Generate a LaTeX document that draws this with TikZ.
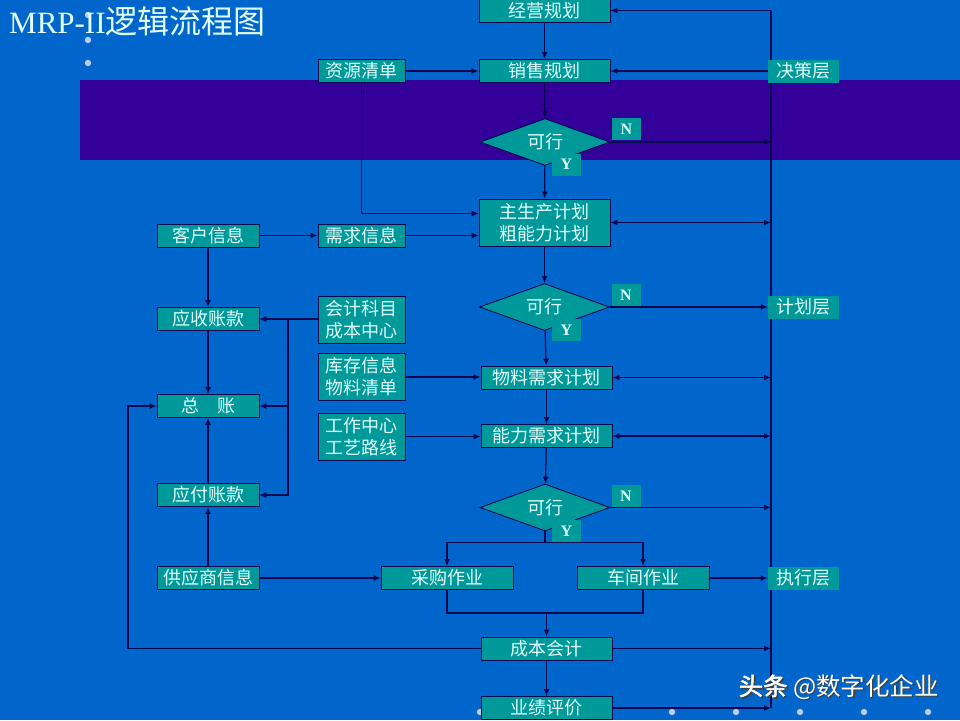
\documentclass[tikz,border=0pt]{standalone}
\usepackage{fontspec}
\setmainfont{Liberation Serif}
\newfontfamily\cjk[AutoFakeBold=2]{Noto Sans CJK SC}
\usetikzlibrary{arrows.meta,
  calc,
  shapes.geometric
}
\definecolor{slideblue}{RGB}{0,102,204}
\definecolor{bandpurple}{RGB}{51,0,153}
\definecolor{boxteal}{RGB}{0,153,153}
\definecolor{boxtext}{RGB}{226,255,255}
\definecolor{wireblue}{RGB}{8,8,80}
\definecolor{dotgray}{RGB}{190,205,235}

\begin{document}
\begin{tikzpicture}[x=1pt,y=-1pt,
  wire/.style={wireblue,line width=1.2},
  flow/.style={wire,-{Latex[length=7pt,width=6pt]}},
  both/.style={wire,{Latex[length=7pt,width=6pt]}-{Latex[length=7pt,width=6pt]}},
  box/.style={draw=wireblue,line width=0.9,fill=boxteal,text=boxtext,inner sep=0,
    minimum height=23,font=\cjk\fontsize{18}{22}\selectfont,align=center},
  wide/.style={box,minimum width=131},
  side/.style={box,minimum width=102},
  info/.style={box,minimum width=87},
  twoline/.style={minimum height=47},
  check/.style={box,shape=diamond,minimum width=130,minimum height=47,aspect=2.8},
  yn/.style={fill=boxteal,text=boxtext,inner sep=0,minimum width=29,minimum height=22,
    font=\fontsize{16}{16}\selectfont\bfseries},
  layer/.style={fill=boxteal,text=boxtext,inner sep=0,minimum width=71,minimum height=23,
    font=\cjk\fontsize{18}{22}\selectfont}]
  % slide background
  \fill[slideblue] (0,0) rectangle (960,720);
  \fill[bandpurple] (80,80) rectangle (960,160);
  \useasboundingbox (0,0) rectangle (960,720);
  \foreach \y in {15,40,63}
    \fill[dotgray] (88,\y) circle (3.2);
  \foreach \x in {480,544,...,928}
    \fill[dotgray] (\x,712) circle (3.2);

  \node[anchor=base west,text=boxtext,font=\fontsize{31}{31}\selectfont,inner sep=0]
    (title) at (9,33) {MRP-II{\cjk\fontsize{32}{32}\selectfont 逻辑流程图}};

  % bus on the right
  \coordinate (bus) at (771,0);
  \coordinate (acct) at (288,0);
  \coordinate (loop) at (128,0);
  \draw[wire] (771,10.5) -- (771,708);

  % main column
  \node[wide] (jy) at (544.5,10.5) {经营规划};
  \node[wide] (xs) at (544.5,71) {销售规划};
  \node[check] (d1) at (545,142) {可行};
  \node[wide,twoline] (mps) at (544.5,222.5) {主生产计划\\粗能力计划};
  \node[check] (d2) at (544.5,307) {可行};
  \node[wide] (mrp) at (546.5,377.5) {物料需求计划};
  \node[wide] (crp) at (546.5,436) {能力需求计划};
  \node[check] (d3) at (545,507.5) {可行};
  \node[box,minimum width=132] (cg) at (447,578) {采购作业};
  \node[box,minimum width=132] (cj) at (643,578) {车间作业};
  \node[wide] (cb) at (546.5,648.5) {成本会计};
  \node[wide] (yj) at (546.5,708) {业绩评价};

  % data columns
  \node[info] (zy) at (361.5,71) {资源清单};
  \node[info] (xq) at (361.5,235.5) {需求信息};
  \node[info,twoline] (km) at (361.5,319.5) {会计科目\\成本中心};
  \node[info,twoline] (kc) at (361.5,377) {库存信息\\物料清单};
  \node[info,twoline] (gz) at (361.5,436.5) {工作中心\\工艺路线};
  \node[side] (kh) at (208,235.5) {客户信息};
  \node[side] (ys) at (208,319) {应收账款};
  \node[side] (zz) at (208,406) {总　账};
  \node[side] (yf) at (208,495) {应付账款};
  \node[side] (gy) at (208,578) {供应商信息};

  % layers and answers
  \node[layer] (jc) at (803.5,71) {决策层};
  \node[layer] (jh) at (803.5,307) {计划层};
  \node[layer] (zx) at (803.5,578) {执行层};
  \node[yn] (n1) at (626.5,129) {N};
  \node[yn] (y1) at (566.5,164.5) {Y};
  \node[yn] (n2) at (626,295) {N};
  \node[yn] (y2) at (566.5,330) {Y};
  \node[yn] (n3) at (626,496) {N};
  \node[yn] (y3) at (566.5,531) {Y};

  % connectors
  \draw[flow] (bus |- jy.east) -- (jy.east);
  \draw[flow] (jy) -- (xs);
  \draw[flow] (zy) -- (xs);
  \draw[flow] (jc) -- (xs);
  \draw[flow] (xs) -- (d1);
  \draw[flow] (d1.east) -- (bus |- d1.east);
  \draw[flow] (d1) -- (mps);
  \draw[flow] (zy) |- ($(mps.west)+(0,-9)$);
  \draw[flow] (kh) -- (xq);
  \draw[flow] (xq) -- (xq -| mps.west);
  \draw[both] (mps.east) -- (bus |- mps.east);
  \draw[flow] (mps) -- (d2);
  \draw[flow] (d2) -- (jh);
  \draw[flow] (d2) -- (mrp);
  \draw[flow] (kc) -- (kc -| mrp.west);
  \draw[both] (mrp.east) -- (bus |- mrp.east);
  \draw[flow] (mrp) -- (crp);
  \draw[flow] (gz) -- (gz -| crp.west);
  \draw[both] (crp.east) -- (bus |- crp.east);
  \draw[flow] (crp) -- (d3);
  \draw[flow] (d3.east) -- (bus |- d3.east);
  \draw[wire] (d3.south) -- ++(0,11) coordinate (split);
  \draw[flow] (split) -| (cg);
  \draw[flow] (split) -| (cj);
  \draw[flow] (cj) -- (zx);
  \draw[flow] (gy) -- (cg);
  \draw[flow] (gy) -- (yf);
  \draw[flow] (yf) -- (zz);
  \draw[flow] (kh) -- (ys);
  \draw[flow] (ys) -- (zz);
  \draw[flow] (km.west |- ys.east) -- (ys.east);
  \draw[flow] (acct |- ys.east) |- (zz.east);
  \draw[flow] (acct |- ys.east) |- (yf.east);
  \coordinate (merge) at (546.5,613);
  \draw[wire] (cg) |- (merge) -| (cj);
  \draw[flow] (merge) -- (cb);
  \draw[flow] (cb.west) -- (cb.west -| loop) |- (zz.west);
  \draw[flow] (cb) -- (bus |- cb.east);
  \draw[flow] (cb) -- (yj);
  \draw[flow] (yj) -- (bus |- yj.east);

  % watermark
  \node[anchor=west,text=black!75,font=\cjk\fontsize{24.5}{24.5}\selectfont,inner sep=0]
    at (740,688.5) {\textbf{头条} @数字化企业};
  \node[anchor=west,text=white,font=\cjk\fontsize{24.5}{24.5}\selectfont,inner sep=0]
    (mark) at (738.5,687) {\textbf{头条} @数字化企业};
\end{tikzpicture}
\end{document}
